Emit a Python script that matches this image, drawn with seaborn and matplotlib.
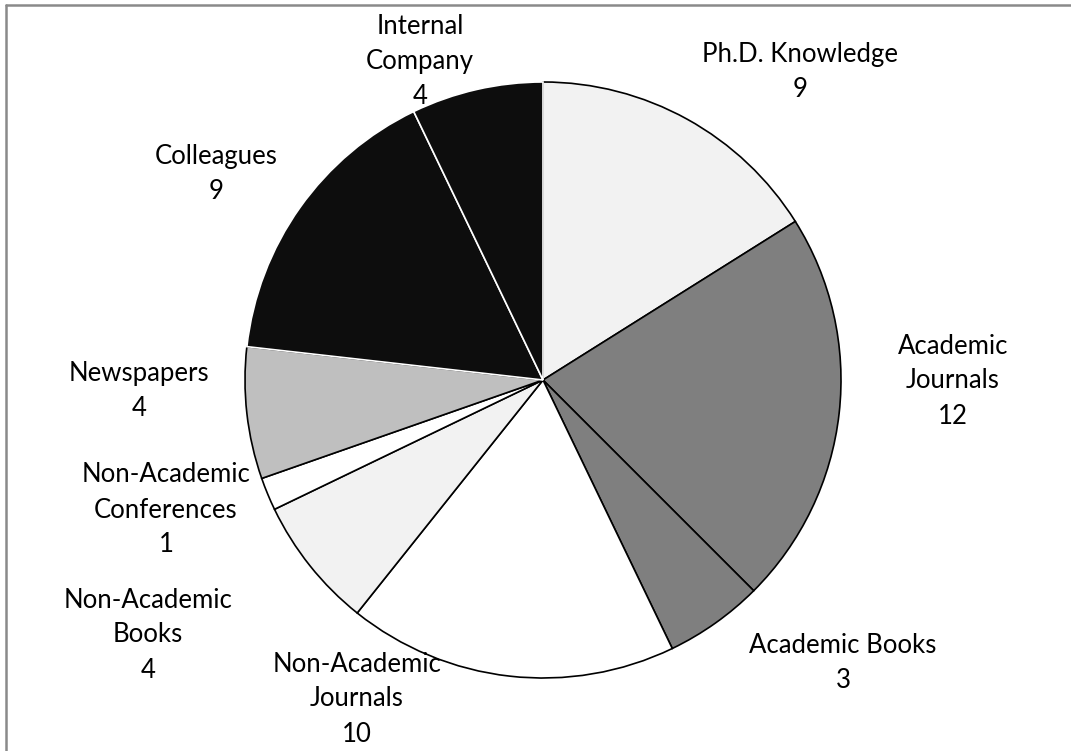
import numpy as np
import matplotlib
matplotlib.use("Agg")
import matplotlib.pyplot as plt
import seaborn as sns
from matplotlib.lines import Line2D

# data
sources = ["Ph.D. Knowledge", "Academic\nJournals", "Academic Books",
           "Non-Academic\nJournals", "Non-Academic\nBooks",
           "Non-Academic\nConferences", "Newspapers", "Colleagues",
           "Internal\nCompany"]
counts = [9, 12, 3, 10, 4, 1, 4, 9, 4]
fills = ["#f2f2f2", "#7f7f7f", "#7f7f7f", "#ffffff", "#f2f2f2",
         "#ffffff", "#bfbfbf", "#0d0d0d", "#0d0d0d"]

# label centres in pixels (x, y from top) - layout only
label_pos = [(800, 72), (953, 381), (843, 663), (357, 699), (148, 635),
             (166, 510), (139, 391), (216, 174), (420, 62)]

W, H = 1071, 751
sns.set_theme(style="white")
plt.rcParams["font.family"] = ["Lato", "DejaVu Sans"]

fig = plt.figure(figsize=(W / 100, H / 100), dpi=100)
ax = fig.add_axes([0, 0, 1, 1])

wedges, _ = ax.pie(counts, colors=fills, startangle=90, counterclock=False,
                   center=(543, H - 380), radius=298,
                   wedgeprops=dict(linewidth=1.2, edgecolor="black"))
# the two black slices carry a white outline
for w, c in zip(wedges, fills):
    if c == "#0d0d0d":
        w.set_edgecolor("white")
        w.set_zorder(3)

ax.set_xlim(0, W)
ax.set_ylim(0, H)
ax.set_aspect("equal")
ax.axis("off")

for name, n, (px, py) in zip(sources, counts, label_pos):
    ax.text(px, H - py, f"{name}\n{n}", ha="center", va="center",
            fontsize=18.5, color="black", linespacing=1.5, zorder=5)

# chart frame (only top and left visible in the crop)
fig.add_artist(Line2D([6 / W, 6 / W], [0, 1 - 5 / H], transform=fig.transFigure,
                      color="#8a8a8a", linewidth=1.8))
fig.add_artist(Line2D([6 / W, 1], [1 - 5 / H, 1 - 5 / H], transform=fig.transFigure,
                      color="#8a8a8a", linewidth=1.8))

fig.savefig("out.png", dpi=100, facecolor="white")
